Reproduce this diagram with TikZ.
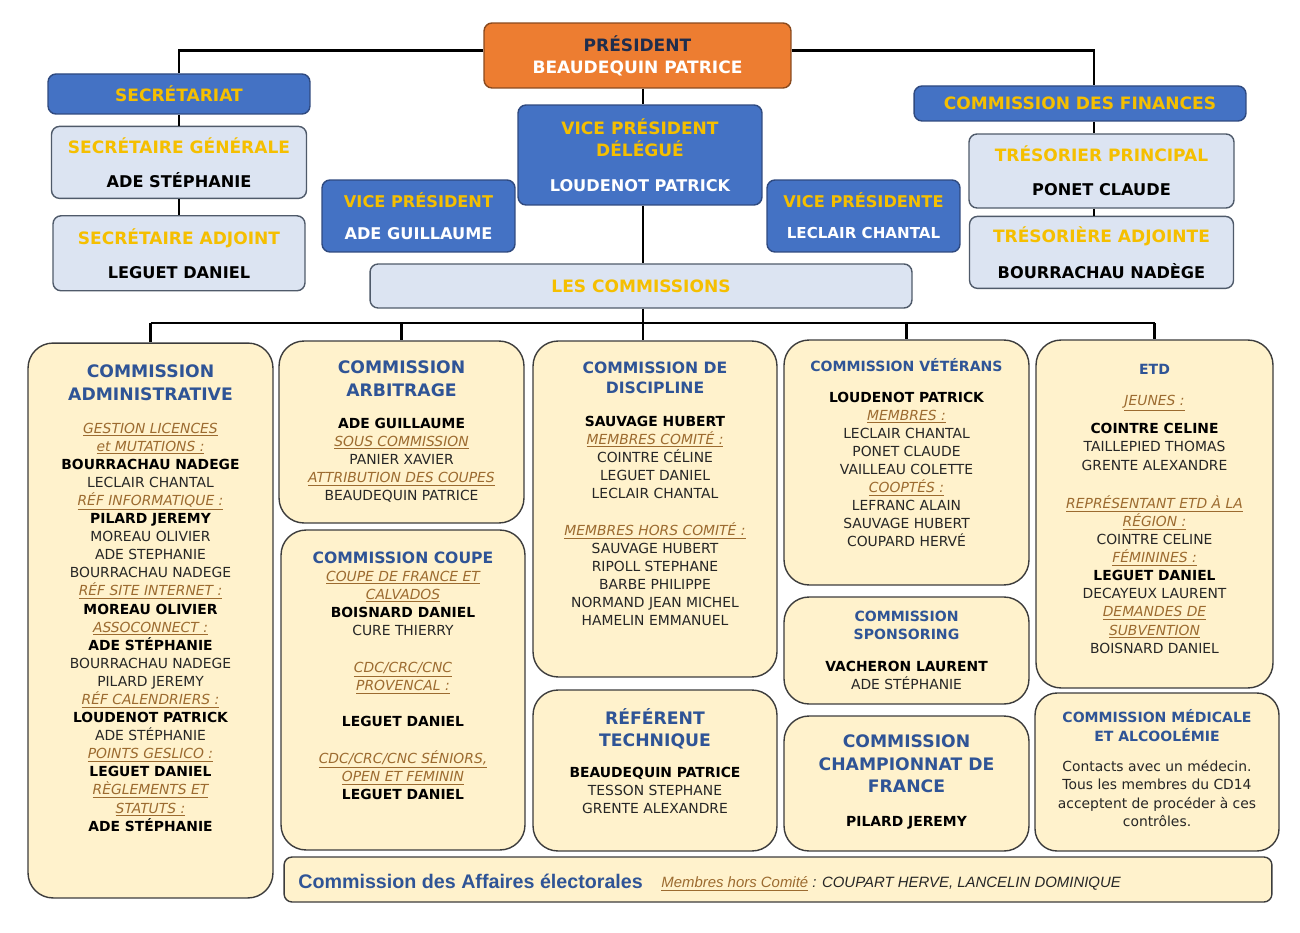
\documentclass[tikz,border=0pt]{standalone}
\usepackage{fontspec}
\setmainfont{DejaVu Sans}
\newfontfamily\narrowfont{Liberation Sans}
\usepackage{tikz}
\usetikzlibrary{positioning}
\definecolor{presorange}{HTML}{ED7D31}
\definecolor{presborder}{HTML}{8A4A1E}
\definecolor{presnavy}{HTML}{1F2D4D}
\definecolor{boxblue}{HTML}{4472C4}
\definecolor{blueborder}{HTML}{2F4A80}
\definecolor{boxlight}{HTML}{DCE4F2}
\definecolor{lightborder}{HTML}{4F5A6A}
\definecolor{hdryellow}{HTML}{F5BF00}
\definecolor{cream}{HTML}{FFF2CC}
\definecolor{colborder}{HTML}{3C3C3C}
\definecolor{titleblue}{HTML}{2F5496}
\definecolor{catbrown}{HTML}{9C6B30}
\definecolor{bodygray}{HTML}{262626}
\tikzset{top box/.style={rectangle,rounded corners=0.16cm,line width=0.8pt,align=center,inner sep=0pt,
font=\bfseries\fontsize{9.7}{11.5}\selectfont},
blue box/.style={top box,fill=boxblue,draw=blueborder,text=hdryellow},
light box/.style={top box,fill=boxlight,draw=lightborder,text=hdryellow},
col box/.style={rectangle,rounded corners=0.5cm,fill=cream,draw=colborder,line width=0.8pt,inner sep=0pt},
big title/.style={anchor=north,align=center,inner sep=0pt,text=titleblue,
font=\bfseries\fontsize{9.8}{13}\selectfont,execute at begin node=\strut},
mid title/.style={big title,font=\bfseries\fontsize{8.9}{11.3}\selectfont},
small title/.style={big title,font=\bfseries\fontsize{8}{10.3}\selectfont},
body/.style={anchor=north,align=center,inner sep=0pt,text=bodygray,
font=\fontsize{7.9}{10.3}\selectfont,execute at begin node=\strut},
link/.style={line width=1.4pt}}
\newcommand{\cat}[1]{{\color{catbrown}\itshape\underline{#1}}}
\newcommand{\nom}[1]{{\color{black}\bfseries #1}}
\newcommand{\qui}[2]{{\color{#1}\fontsize{9.2}{11.5}\selectfont #2}}

\begin{document}
\begin{tikzpicture}[x=0.02cm,y=-0.02cm]
    \useasboundingbox (0,0) rectangle (1300,932);

    \node[top box,fill=presorange,draw=presborder,minimum width=6.14cm,minimum height=1.3cm] (pres) at (637.5,55.5)
        {{\color{presnavy}PRÉSIDENT}\\[1pt]{\color{white}BEAUDEQUIN PATRICE}};
    \node[blue box,minimum width=5.24cm,minimum height=0.8cm] (secr) at (179,94) {SECRÉTARIAT};
    \node[light box,minimum width=5.1cm,minimum height=1.44cm] (sg) [below=0.22cm of secr]
        {SECRÉTAIRE GÉNÉRALE\\[7.8pt]\qui{black}{ADE STÉPHANIE}};
    \node[light box,minimum width=5.04cm,minimum height=1.5cm] (sa) [below=0.32cm of sg]
        {SECRÉTAIRE ADJOINT\\[7.8pt]\qui{black}{LEGUET DANIEL}};
    \node[blue box,minimum width=4.88cm,minimum height=2cm] (vpd) at (640,155)
        {VICE PRÉSIDENT\\[1pt]DÉLÉGUÉ\\[8.3pt]\qui{white}{LOUDENOT PATRICK}};
    \node[blue box,minimum width=3.86cm,minimum height=1.44cm] (vp) at (418.5,216)
        {\fontsize{9.2}{11.5}\selectfont VICE PRÉSIDENT\\[6.6pt]\qui{white}{ADE GUILLAUME}};
    \node[blue box,minimum width=3.86cm,minimum height=1.44cm] (vpte) at (863.5,216)
        {\fontsize{9.2}{11.5}\selectfont VICE PRÉSIDENTE\\[6.1pt]{\color{white}\fontsize{8.6}{11}\selectfont LECLAIR CHANTAL}};
    \node[light box,minimum width=10.84cm,minimum height=0.88cm] (lescom) at (641,286) {LES COMMISSIONS};
    \node[blue box,minimum width=6.64cm,minimum height=0.7cm] (fin) at (1080,103.5) {COMMISSION DES FINANCES};
    \node[light box,minimum width=5.3cm,minimum height=1.48cm] (tp) at (1101.5,171)
        {TRÉSORIER PRINCIPAL\\[7.8pt]\qui{black}{PONET CLAUDE}};
    \node[light box,minimum width=5.28cm,minimum height=1.44cm] (ta) [below=0.14cm of tp]
        {TRÉSORIÈRE ADJOINTE\\[8.9pt]\qui{black}{BOURRACHAU NADÈGE}};

    \node[col box,minimum width=4.9cm,minimum height=11.1cm] (admin) at (150.5,620.5) {};
    \node[col box,minimum width=4.9cm,minimum height=3.64cm] (arbi) at (401.5,432) {};
    \node[col box,minimum width=4.88cm,minimum height=6.4cm] (coupe) at (403,690) {};
    \node[col box,minimum width=4.88cm,minimum height=6.72cm] (disc) at (655,509) {};
    \node[col box,minimum width=4.88cm,minimum height=3.22cm] (refe) at (655,770.5) {};
    \node[col box,minimum width=4.9cm,minimum height=4.9cm] (vete) at (906.5,462.5) {};
    \node[col box,minimum width=4.9cm,minimum height=2.14cm] (spon) at (906.5,650.5) {};
    \node[col box,minimum width=4.9cm,minimum height=2.7cm] (champ) at (906.5,783.5) {};
    \node[col box,minimum width=4.74cm,minimum height=6.96cm] (etd) at (1154.5,514) {};
    \node[col box,rounded corners=0.44cm,minimum width=4.88cm,minimum height=3.16cm] (medic) at (1157,772) {};
    \node[col box,rounded corners=0.16cm,minimum width=19.76cm,minimum height=0.9cm] (elec) at (778,879.5) {};

    \coordinate (bus) at (643,323);
    \coordinate (spine) at ([xshift=0.06cm]vpd.south);
    \coordinate (pw) at ([yshift=0.1cm]pres.west);
    \coordinate (pe) at ([yshift=0.1cm]pres.east);
    \coordinate (finx) at ([xshift=0.28cm]fin.north);
    \path[draw,link]
    (pw) -| (secr.north)
    (secr.south) -- (secr.south |- sg.north)
    (sg.south) -- (sg.south |- sa.north)
    (pe) -| (finx)
    (finx |- fin.south) -- (finx |- tp.north)
    (finx |- tp.south) -- (finx |- ta.north)
    (spine |- pres.south) -- (spine |- vpd.north)
    (spine) -- (spine |- lescom.north)
    (spine |- lescom.south) -- (spine |- disc.north)
    (admin.north |- bus) -- (etd.north |- bus)
    (admin.north |- bus) -- (admin.north)
    (arbi.north |- bus) -- (arbi.north)
    (vete.north |- bus) -- (vete.north)
    (etd.north |- bus) -- (etd.north);

    \node[big title] (admint) at (150.5,364.5) {COMMISSION\\ADMINISTRATIVE};
    \node[body] (admb) at (150.5,422.4) {\cat{GESTION LICENCES}\\\cat{et MUTATIONS :}\\\nom{BOURRACHAU NADEGE}\\LECLAIR CHANTAL\\
        \cat{RÉF INFORMATIQUE :}\\\nom{PILARD JEREMY}\\MOREAU OLIVIER\\ADE STEPHANIE\\BOURRACHAU NADEGE\\
        \cat{RÉF SITE INTERNET :}\\\nom{MOREAU OLIVIER}\\\cat{ASSOCONNECT :}\\\nom{ADE STÉPHANIE}\\BOURRACHAU NADEGE\\
        PILARD JEREMY\\\cat{RÉF CALENDRIERS :}\\\nom{LOUDENOT PATRICK}\\ADE STÉPHANIE\\\cat{POINTS GESLICO :}\\
        \nom{LEGUET DANIEL}\\\cat{RÈGLEMENTS ET}\\\cat{STATUTS :}\\\nom{ADE STÉPHANIE}};

    \node[big title] (arbit) at (401.5,360.5) {COMMISSION\\ARBITRAGE};
    \node[body] (arbib) at (401.5,417.4) {\nom{ADE GUILLAUME}\\\cat{SOUS COMMISSION}\\PANIER XAVIER\\
        \cat{ATTRIBUTION DES COUPES}\\BEAUDEQUIN PATRICE};

    \node[mid title] (coupet) at (403,549) {COMMISSION COUPE};
    \node[body] (coupeb) at (403,570.4) {\cat{COUPE DE FRANCE ET}\\\cat{CALVADOS}\\\nom{BOISNARD DANIEL}\\CURE THIERRY\\[10.7pt]
        \cat{CDC/CRC/CNC}\\\cat{PROVENCAL :}\\[10.2pt]\nom{LEGUET DANIEL}\\[10.7pt]
        \cat{CDC/CRC/CNC SÉNIORS,}\\\cat{OPEN ET FEMININ}\\\nom{LEGUET DANIEL}};

    \node[mid title] (disct) at (655,362) {COMMISSION DE\\DISCIPLINE};
    \node[body] (discb) at (655,415.4) {\nom{SAUVAGE HUBERT}\\\cat{MEMBRES COMITÉ :}\\COINTRE CÉLINE\\LEGUET DANIEL\\
        LECLAIR CHANTAL\\[10.7pt]\cat{MEMBRES HORS COMITÉ :}\\SAUVAGE HUBERT\\RIPOLL STEPHANE\\BARBE PHILIPPE\\
        NORMAND JEAN MICHEL\\HAMELIN EMMANUEL};

    \node[big title,font=\bfseries\fontsize{9.8}{12.5}\selectfont] (refet) at (655,708) {RÉFÉRENT\\TECHNIQUE};
    \node[body] (refeb) at (655,766.4) {\nom{BEAUDEQUIN PATRICE}\\TESSON STEPHANE\\GRENTE ALEXANDRE};

    \node[small title] (vetet) at (906.5,358.4) {COMMISSION VÉTÉRANS};
    \node[body] (veteb) at (906.5,391.4) {\nom{LOUDENOT PATRICK}\\\cat{MEMBRES :}\\LECLAIR CHANTAL\\PONET CLAUDE\\
        VAILLEAU COLETTE\\\cat{COOPTÉS :}\\LEFRANC ALAIN\\SAUVAGE HUBERT\\COUPARD HERVÉ};

    \node[small title] (spont) at (906.5,610.6) {COMMISSION\\SPONSORING};
    \node[body] (sponb) at (906.5,660.4) {\nom{VACHERON LAURENT}\\ADE STÉPHANIE};

    \node[big title,font=\bfseries\fontsize{9.8}{12.8}\selectfont] (champt) at (906.5,734.5) {COMMISSION\\CHAMPIONNAT DE\\FRANCE};
    \node[body] (champb) at (906.5,813.4) {\nom{PILARD JEREMY}};

    \node[small title] (etdt) at (1154.5,361.4) {ETD};
    \node[body] (etdb) at (1154.5,394.4) {\cat{JEUNES :}\\[6.1pt]\nom{COINTRE CELINE}\\TAILLEPIED THOMAS\\GRENTE ALEXANDRE\\[11.5pt]
        \cat{REPRÉSENTANT ETD À LA}\\\cat{RÉGION :}\\COINTRE CELINE\\\cat{FÉMININES :}\\\nom{LEGUET DANIEL}\\
        DECAYEUX LAURENT\\\cat{DEMANDES DE}\\\cat{SUBVENTION}\\BOISNARD DANIEL};

    \node[small title] (medict) at (1157,709.6) {COMMISSION MÉDICALE\\ET ALCOOLÉMIE};
    \node[body] (medicb) at (1157,760.4) {Contacts avec un médecin.\\Tous les membres du CD14\\
        acceptent de procéder à ces\\contrôles.};

    \node[anchor=base west,inner sep=0pt,text=titleblue,font=\narrowfont\bfseries\fontsize{11.2}{13}\selectfont] (elect) at (298,888)
        {Commission des Affaires électorales};
    \node[anchor=base west,inner sep=0pt,text=bodygray,font=\narrowfont\itshape\fontsize{8.5}{10}\selectfont] (elecm) at (661,887.5)
        {{\color{catbrown}\underline{Membres hors Comité}} : COUPART HERVE, LANCELIN DOMINIQUE};

\end{tikzpicture}
\end{document}
